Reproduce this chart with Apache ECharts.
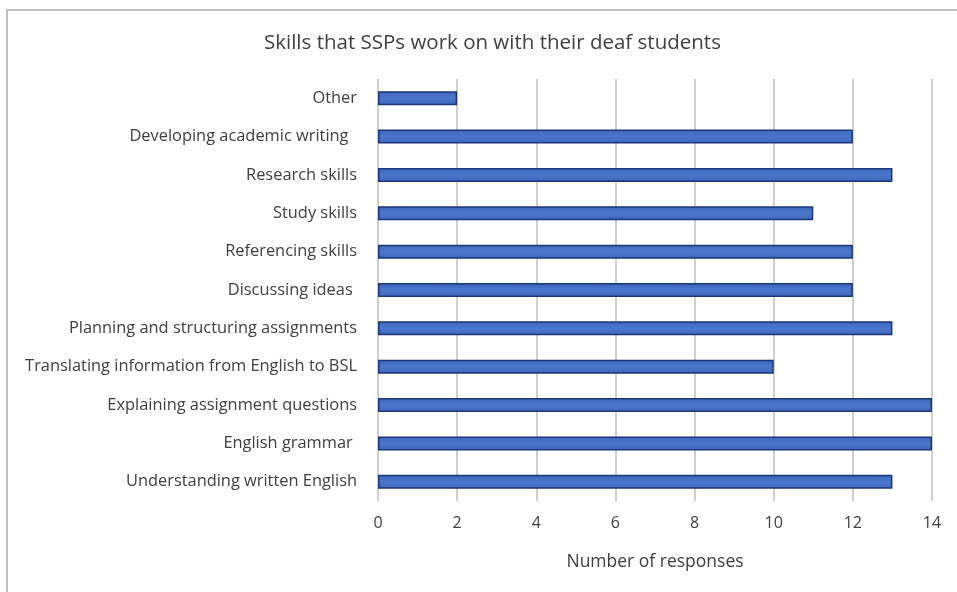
<!DOCTYPE html>
<html>
<head>
<meta charset="utf-8">
<script src="https://cdn.jsdelivr.net/npm/echarts@6/dist/echarts.min.js"></script>
<style>
  html, body { margin: 0; padding: 0; background: #fff; }
  #chart { width: 957px; height: 592px; }
</style>
</head>
<body>
<div id="chart"></div>
<script>
// categories listed bottom to top (ECharts category y axis starts at the bottom)
const skills = [
  'Understanding written English',
  'English grammar ',
  'Explaining assignment questions',
  'Translating information from English to BSL',
  'Planning and structuring assignments',
  'Discussing ideas ',
  'Referencing skills',
  'Study skills',
  'Research skills',
  'Developing academic writing  ',
  'Other',
];
const responses = [13, 14, 14, 10, 13, 12, 12, 11, 13, 12, 2];
const xTicks = [0, 2, 4, 6, 8, 10, 12, 14];

const textColor = '#404040';
const fontFamily = '"Open Sans", Lato, sans-serif';

const myChart = echarts.init(document.getElementById('chart'));
myChart.setOption({
  animation: false,
  textStyle: { fontFamily },
  title: {
    text: 'Skills that SSPs work on with their deaf students',
    left: 259,
    top: 28,
    textStyle: { color: textColor, fontSize: 20.5, fontWeight: 'normal', fontFamily },
  },
  graphic: [
    {
      type: 'rect',
      shape: { x: 7, y: 10, width: 1200, height: 1200 },
      style: { fill: 'none', stroke: '#c0c0c0', lineWidth: 2 },
      silent: true,
    },
  ],
  grid: {
    left: 378,
    right: 25,
    top: 79,
    bottom: 91,
  },
  xAxis: {
    type: 'value',
    min: xTicks[0],
    max: xTicks[xTicks.length - 1],
    interval: 2,
    name: 'Number of responses',
    nameLocation: 'middle',
    nameGap: 52,
    nameTextStyle: { color: textColor, fontSize: 17.5, fontFamily },
    axisLine: { show: false },
    axisTick: { show: false },
    axisLabel: { color: textColor, fontSize: 16, margin: 14, fontFamily },
    splitLine: {
      show: true,
      lineStyle: { color: '#cfcfcf', width: 2 },
    },
  },
  yAxis: {
    type: 'category',
    data: skills,
    axisLine: { show: false },
    axisTick: { show: false },
    axisLabel: { color: textColor, fontSize: 16.4, margin: 21, fontFamily },
  },
  series: [
    {
      type: 'bar',
      data: responses,
      barWidth: 14,
      itemStyle: {
        color: new echarts.graphic.LinearGradient(0, 0, 0, 1, [
          { offset: 0, color: '#3d67bd' },
          { offset: 0.5, color: '#4a76cc' },
          { offset: 1, color: '#3d67bd' },
        ]),
        borderColor: '#1c367a',
        borderWidth: 1.5,
      },
    },
  ],
});
</script>
</body>
</html>
